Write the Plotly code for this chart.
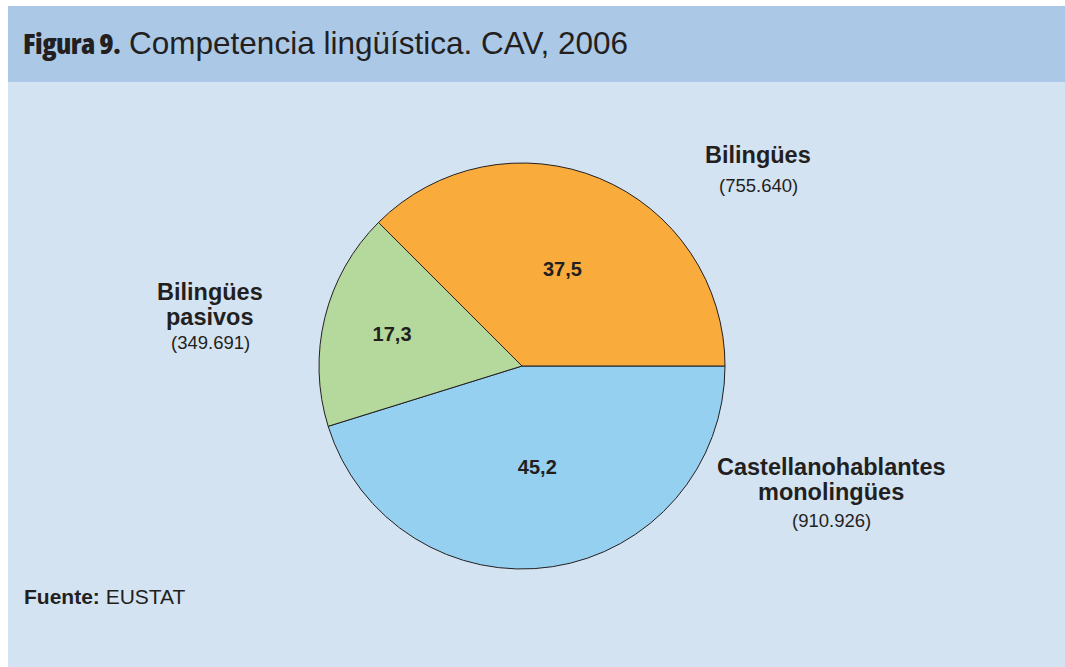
import plotly.graph_objects as go

categories = ["Castellanohablantes monolingües", "Bilingües pasivos", "Bilingües"]
percentages = [45.2, 17.3, 37.5]
persons = ["910.926", "349.691", "755.640"]
pct_labels = ["45,2", "17,3", "37,5"]
colors = ["#95D0F0", "#B5D99C", "#F9AC3C"]

W, H = 1065, 667
cx, cy, r = 522, 366, 203

fig = go.Figure(go.Pie(
    labels=categories,
    values=percentages,
    text=pct_labels,
    textinfo="text",
    textposition="inside",
    insidetextorientation="horizontal",
    textfont=dict(family="Liberation Sans", size=20, color="#231F20", weight="bold"),
    marker=dict(colors=colors, line=dict(color="#231F20", width=1)),
    sort=False,
    direction="clockwise",
    rotation=90,
    hoverinfo="label+percent",
    domain=dict(x=[(cx - r) / W, (cx + r) / W], y=[1 - (cy + r) / H, 1 - (cy - r) / H]),
    showlegend=False,
))

shapes = [
    dict(type="rect", xref="paper", yref="paper", x0=8 / W, x1=1, y0=1 - 82 / H, y1=1 - 6 / H,
         fillcolor="#ABC9E7", line=dict(width=0), layer="below"),
    dict(type="rect", xref="paper", yref="paper", x0=8 / W, x1=1, y0=0, y1=1 - 82 / H,
         fillcolor="#D4E3F2", line=dict(width=0), layer="below"),
]

def ann(x, y, text, size, bold=False, color="#231F20", xanchor="center", family="Liberation Sans"):
    return dict(x=x / W, y=1 - y / H, xref="paper", yref="paper", text=text, showarrow=False,
                xanchor=xanchor, yanchor="middle",
                font=dict(family=family, size=size, color=color, weight="bold" if bold else "normal"))

# label line positions (x, [y of each name line], y of value)
label_pos = {
    "Bilingües": (758, [155], 185),
    "Bilingües pasivos": (210, [292, 317], 343),
    "Castellanohablantes monolingües": (831, [467, 492], 520),
}
annotations = []
for cat, p in zip(categories, persons):
    x, ys, yv = label_pos[cat]
    words = cat.split(" ")
    for w_, y in zip(words, ys):
        annotations.append(ann(x, y, w_, 23.5, bold=True))
    annotations.append(ann(x, yv, f"({p})", 18.5))

annotations.append(dict(x=21 / W, y=1 - 43 / H, xref="paper", yref="paper", showarrow=False,
                        xanchor="left", yanchor="middle",
                        text="<span style='font-family:Open Sans;font-stretch:condensed;font-weight:800;font-size:29px;letter-spacing:-0.6px'>Figura 9.</span> Competencia lingüística. CAV, 2006",
                        font=dict(family="Liberation Sans", size=31.5, color="#231F20")))
annotations.append(dict(x=22 / W, y=1 - 596 / H, xref="paper", yref="paper", showarrow=False,
                        xanchor="left", yanchor="middle",
                        text="<b>Fuente:</b> EUSTAT",
                        font=dict(family="Liberation Sans", size=21, color="#231F20")))

fig.update_layout(
    width=W, height=H,
    margin=dict(l=0, r=0, t=0, b=0),
    paper_bgcolor="white",
    plot_bgcolor="white",
    shapes=shapes,
    annotations=annotations,
)

fig.write_html("out.html", config={"displayModeBar": False},
               post_script="document.body.style.margin='0';document.body.style.overflow='hidden';")
